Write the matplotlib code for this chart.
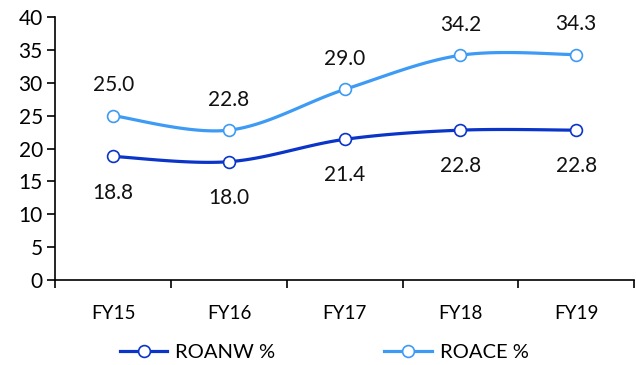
import matplotlib.pyplot as plt
import numpy as np

years = ["FY15", "FY16", "FY17", "FY18", "FY19"]
roanw = [18.8, 18.0, 21.4, 22.8, 22.8]
roace = [25.0, 22.8, 29.0, 34.2, 34.3]

plt.rcParams['font.family'] = ['Lato', 'DejaVu Sans']


def smooth(xs, ys, n=30):
    # Catmull-Rom style curve through the points
    xs = np.asarray(xs, float)
    ys = np.asarray(ys, float)
    px = np.concatenate([[xs[0]], xs, [xs[-1]]])
    py = np.concatenate([[ys[0]], ys, [ys[-1]]])
    outx, outy = [], []
    for i in range(1, len(px) - 2):
        t = np.linspace(0, 1, n)
        p0, p1, p2, p3 = px[i - 1], px[i], px[i + 1], px[i + 2]
        q0, q1, q2, q3 = py[i - 1], py[i], py[i + 1], py[i + 2]
        # bezier control points (tension 1/6)
        c1x, c1y = p1 + (p2 - p0) / 6, q1 + (q2 - q0) / 6
        c2x, c2y = p2 - (p3 - p1) / 6, q2 - (q3 - q1) / 6
        bx = (1-t)**3*p1 + 3*(1-t)**2*t*c1x + 3*(1-t)*t**2*c2x + t**3*p2
        by = (1-t)**3*q1 + 3*(1-t)**2*t*c1y + 3*(1-t)*t**2*c2y + t**3*q2
        outx.extend(bx)
        outy.extend(by)
    return np.array(outx), np.array(outy)


fig = plt.figure(figsize=(6.36, 3.65), dpi=100)
ax = fig.add_axes([0.087, 0.233, 0.91, 0.72])

x = np.arange(len(years))
dark = "#0a35c8"
light = "#3d9bf5"

for vals, col, name, off in [(roanw, dark, "ROANW %", -26), (roace, light, "ROACE %", 22)]:
    sx, sy = smooth(x, vals)
    ax.plot(sx, sy, color=col, lw=2.3)
    ax.plot(x, vals, 'o', color=col, mfc='white', mew=1.2, ms=8.5)
    ax.plot([], [], '-o', color=col, mfc='white', mew=1.2, ms=8.5, lw=2.3, label=name)
    for xi, v in zip(x, vals):
        ax.annotate(f"{v:.1f}", (xi, v), xytext=(0, off), textcoords='offset points',
                    ha='center', va='center', fontsize=15, color='#111111')

ax.set_xlim(-0.5, len(years) - 0.5)
ax.set_ylim(0, 40)
ax.set_yticks(np.arange(0, 41, 5))
ax.set_xticks(x)
ax.set_xticklabels(years)
ax.set_xticks(np.arange(-0.5, len(years), 1), minor=True)
ax.tick_params(axis='x', which='major', length=0, labelsize=13.5, pad=18)
ax.tick_params(axis='x', which='minor', length=6, width=1.2)
ax.tick_params(axis='y', length=6, width=1.2, labelsize=15, pad=3)
for s in ['top', 'right']:
    ax.spines[s].set_visible(False)
for s in ['left', 'bottom']:
    ax.spines[s].set_linewidth(1.2)

fig.legend(loc='lower center', bbox_to_anchor=(0.51, -0.04), ncol=2, frameon=False,
           fontsize=14.5, handlelength=2.35, columnspacing=5.4, handletextpad=0.4)

fig.savefig("out.png", dpi=100)
